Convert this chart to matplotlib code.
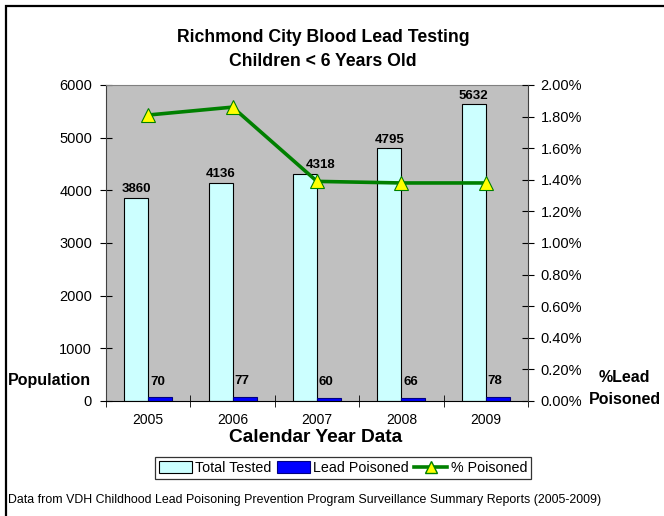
import matplotlib
matplotlib.use("Agg")
import matplotlib.pyplot as plt
import numpy as np
from matplotlib.ticker import FuncFormatter, FixedLocator
from matplotlib.patches import Rectangle
from matplotlib.lines import Line2D
from matplotlib.patches import Patch

plt.rcParams['font.family'] = ['Liberation Sans', 'DejaVu Sans']

years = ["2005", "2006", "2007", "2008", "2009"]
total_tested = [3860, 4136, 4318, 4795, 5632]
lead_poisoned = [70, 77, 60, 66, 78]
pct_poisoned = [1.81, 1.86, 1.39, 1.38, 1.38]

# horizontal nudges (points) of the "Total Tested" value labels, as placed in the reference
label_dx = [0, 0, 11, 0, 0]

fig = plt.figure(figsize=(6.64, 5.16), dpi=100)
W, H = 664, 516
ax = fig.add_axes([106 / W, 1 - 401 / H, (528 - 106) / W, (401 - 85) / H])
ax.set_facecolor('#C0C0C0')

x = np.arange(len(years))
bw = 0.285
ax.bar(x - bw / 2, total_tested, width=bw, color='#CCFFFF', edgecolor='#000000', linewidth=0.8, zorder=2)
ax.bar(x + bw / 2, lead_poisoned, width=bw, color='#0000FF', edgecolor='#000080', linewidth=0.8, zorder=2)

for xi, v, dx in zip(x, total_tested, label_dx):
    ax.annotate(str(v), (xi - bw / 2, v), xytext=(dx, 2), textcoords='offset points',
                ha='center', va='bottom', fontsize=9.5, fontweight='bold', zorder=6)
for xi, v in zip(x, lead_poisoned):
    ax.annotate(str(v), (xi + bw / 2, v), xytext=(-2, 7), textcoords='offset points',
                ha='center', va='bottom', fontsize=9.5, fontweight='bold')

ax.set_xlim(-0.5, len(years) - 0.5)
ax.set_ylim(0, 6000)
ax.set_yticks(range(0, 6001, 1000))
ax.set_xticks(x)
ax.set_xticklabels(years, fontsize=10)
ax.xaxis.set_minor_locator(FixedLocator(np.arange(-0.5, len(years), 1.0)))
ax.tick_params(axis='x', which='major', length=0, pad=9)
ax.tick_params(axis='x', which='minor', length=8, direction='inout', color='#000000')
ax.tick_params(axis='y', length=8, direction='inout', labelsize=10.5, pad=6)

ax.spines['left'].set_color('#404040')
ax.spines['top'].set_color('#808080')
ax.spines['right'].set_visible(False)
ax.spines['bottom'].set_color('#000000')

ax2 = ax.twinx()
ax2.plot(x, pct_poisoned, color='#008000', linewidth=2.6, marker='^', markersize=10,
         markerfacecolor='#FFFF00', markeredgecolor='#008000', markeredgewidth=0.8, zorder=5)
ax2.set_ylim(0, 2.0)
ax2.set_yticks(np.arange(0, 2.001, 0.2))
ax2.yaxis.set_major_formatter(FuncFormatter(lambda v, p: f"{v:.2f}%"))
ax2.tick_params(axis='y', length=8, direction='inout', labelsize=10.5, pad=5)
ax2.spines['right'].set_color('#404040')
ax2.spines['top'].set_visible(False)
ax2.spines['left'].set_visible(False)
ax2.spines['bottom'].set_visible(False)

fig.text(323 / W, 1 - 38 / H, "Richmond City Blood Lead Testing", ha='center', va='center',
         fontsize=12.7, fontweight='bold')
fig.text(323 / W, 1 - 61 / H, "Children < 6 Years Old", ha='center', va='center',
         fontsize=12.7, fontweight='bold')
fig.text(316 / W, 1 - 438 / H, "Calendar Year Data", ha='center', va='center',
         fontsize=13.8, fontweight='bold')
fig.text(8 / W, 1 - 380 / H, "Population", ha='left', va='center', fontsize=11.5, fontweight='bold')
fig.text(624 / W, 1 - 378 / H, "%Lead", ha='center', va='center', fontsize=11.5, fontweight='bold')
fig.text(625 / W, 1 - 400 / H, "Poisoned", ha='center', va='center', fontsize=11.5, fontweight='bold')
fig.text(8 / W, 1 - 500 / H,
         "Data from VDH Childhood Lead Poisoning Prevention Program Surveillance Summary Reports (2005-2009)",
         ha='left', va='center', fontsize=8.9)

handles = [Patch(facecolor='#CCFFFF', edgecolor='#000000', linewidth=0.8),
           Patch(facecolor='#0000FF', edgecolor='#000080', linewidth=0.8),
           Line2D([0], [0], color='#008000', linewidth=2.6, marker='^', markersize=8,
                  markerfacecolor='#FFFF00', markeredgecolor='#008000')]
leg = fig.legend(handles, ["Total Tested", "Lead Poisoned", "% Poisoned"], loc='center',
                 bbox_to_anchor=(343 / W, 1 - 468 / H), ncol=3, fontsize=10.3, frameon=True,
                 fancybox=False, edgecolor='#000000', handlelength=2.3, handletextpad=0.25,
                 columnspacing=0.35, borderpad=0.25, handleheight=0.9)
leg.get_frame().set_linewidth(0.9)

fig.patches.append(Rectangle((5.5 / W, -0.1), 1.2, 1 - 5.5 / H + 0.1, transform=fig.transFigure,
                             fill=False, edgecolor='#000000', linewidth=1.6))

fig.savefig("out.png", dpi=100)
